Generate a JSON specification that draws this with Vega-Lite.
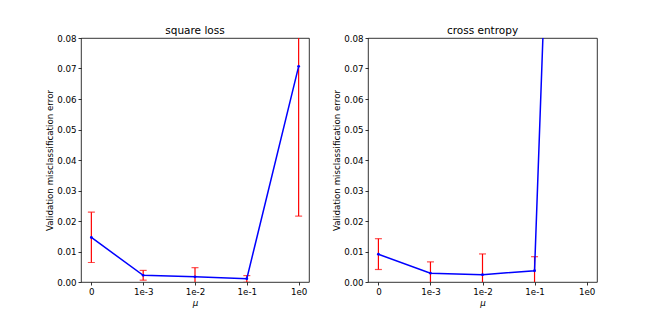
{
  "$schema": "https://vega.github.io/schema/vega-lite/v6.json",
  "padding": {"left": 45, "top": 25, "right": 5, "bottom": 5},
  "spacing": 22,
  "datasets": {
    "pts": [
      {"panel": "square loss", "mu": "0", "y": 0.0146, "lo": 0.0064, "hi": 0.0229},
      {"panel": "square loss", "mu": "1e-3", "y": 0.0022, "lo": 0.0006, "hi": 0.0038},
      {"panel": "square loss", "mu": "1e-2", "y": 0.0017, "lo": -0.0013, "hi": 0.0047},
      {"panel": "square loss", "mu": "1e-1", "y": 0.0011, "lo": -0.0001, "hi": 0.0021},
      {"panel": "square loss", "mu": "1e0", "y": 0.0707, "lo": 0.0216, "hi": 0.1198},
      {"panel": "cross entropy", "mu": "0", "y": 0.0091, "lo": 0.0041, "hi": 0.0142},
      {"panel": "cross entropy", "mu": "1e-3", "y": 0.0029, "lo": -0.0008, "hi": 0.0066},
      {"panel": "cross entropy", "mu": "1e-2", "y": 0.0024, "lo": -0.0044, "hi": 0.0092},
      {"panel": "cross entropy", "mu": "1e-1", "y": 0.0037, "lo": -0.0009, "hi": 0.0083},
      {"panel": "cross entropy", "mu": "1e0", "y": 0.48, "lo": null, "hi": null}
    ]
  },
  "hconcat": [
    {
      "title": "square loss",
      "width": 228,
      "height": 244,
      "data": {"name": "pts"},
      "transform": [{"filter": "datum.panel === 'square loss'"}],
      "encoding": {
        "x": {"field": "mu", "type": "ordinal", "sort": ["0", "1e-3", "1e-2", "1e-1", "1e0"], "scale": {"type": "point", "padding": 0.2}, "title": "μ"},
        "y": {"type": "quantitative", "scale": {"domain": [0, 0.08], "nice": false, "zero": false}, "title": "Validation misclassification error", "axis": {"format": ".2f", "values": [0, 0.01, 0.02, 0.03, 0.04, 0.05, 0.06, 0.07, 0.08]}}
      },
      "layer": [
        {"mark": {"type": "rule", "color": "red", "strokeWidth": 1.2, "clip": true}, "encoding": {"y": {"field": "lo", "type": "quantitative"}, "y2": {"field": "hi"}}},
        {"mark": {"type": "tick", "color": "red", "size": 7, "thickness": 1.2, "orient": "horizontal", "clip": true}, "encoding": {"y": {"field": "lo", "type": "quantitative"}}},
        {"mark": {"type": "tick", "color": "red", "size": 7, "thickness": 1.2, "orient": "horizontal", "clip": true}, "encoding": {"y": {"field": "hi", "type": "quantitative"}}},
        {"mark": {"type": "line", "color": "#0000ff", "strokeWidth": 1.5, "clip": true}, "encoding": {"y": {"field": "y", "type": "quantitative"}}},
        {"mark": {"type": "point", "color": "#0000ff", "filled": true, "size": 8, "opacity": 1, "clip": true}, "encoding": {"y": {"field": "y", "type": "quantitative"}}}
      ]
    },
    {
      "title": "cross entropy",
      "width": 229,
      "height": 244,
      "data": {"name": "pts"},
      "transform": [{"filter": "datum.panel === 'cross entropy'"}],
      "encoding": {
        "x": {"field": "mu", "type": "ordinal", "sort": ["0", "1e-3", "1e-2", "1e-1", "1e0"], "scale": {"type": "point", "padding": 0.2}, "title": "μ"},
        "y": {"type": "quantitative", "scale": {"domain": [0, 0.08], "nice": false, "zero": false}, "title": "Validation misclassification error", "axis": {"format": ".2f", "values": [0, 0.01, 0.02, 0.03, 0.04, 0.05, 0.06, 0.07, 0.08]}}
      },
      "layer": [
        {"mark": {"type": "rule", "color": "red", "strokeWidth": 1.2, "clip": true}, "encoding": {"y": {"field": "lo", "type": "quantitative"}, "y2": {"field": "hi"}}},
        {"mark": {"type": "tick", "color": "red", "size": 7, "thickness": 1.2, "orient": "horizontal", "clip": true}, "encoding": {"y": {"field": "lo", "type": "quantitative"}}},
        {"mark": {"type": "tick", "color": "red", "size": 7, "thickness": 1.2, "orient": "horizontal", "clip": true}, "encoding": {"y": {"field": "hi", "type": "quantitative"}}},
        {"mark": {"type": "line", "color": "#0000ff", "strokeWidth": 1.5, "clip": true}, "encoding": {"y": {"field": "y", "type": "quantitative"}}},
        {"mark": {"type": "point", "color": "#0000ff", "filled": true, "size": 8, "opacity": 1, "clip": true}, "encoding": {"y": {"field": "y", "type": "quantitative"}}}
      ]
    }
  ],
  "config": {
    "font": "DejaVu Sans",
    "background": "white",
    "view": {"stroke": "#000000", "strokeWidth": 0.8},
    "title": {"fontSize": 10.5, "fontWeight": "normal", "color": "#000000", "offset": -2, "font": "DejaVu Sans"},
    "axis": {
      "grid": false,
      "domain": false,
      "tickColor": "#000000",
      "tickSize": 3,
      "tickWidth": 0.8,
      "labelFont": "DejaVu Sans",
      "labelFontSize": 8.7,
      "labelColor": "#000000",
      "labelPadding": 2,
      "titleFont": "DejaVu Sans",
      "titleFontSize": 8.7,
      "titleFontWeight": "normal",
      "titleColor": "#000000",
      "titlePadding": 2
    },
    "axisX": {"labelAngle": 0, "titleFontStyle": "italic", "titlePadding": 3}
  }
}
